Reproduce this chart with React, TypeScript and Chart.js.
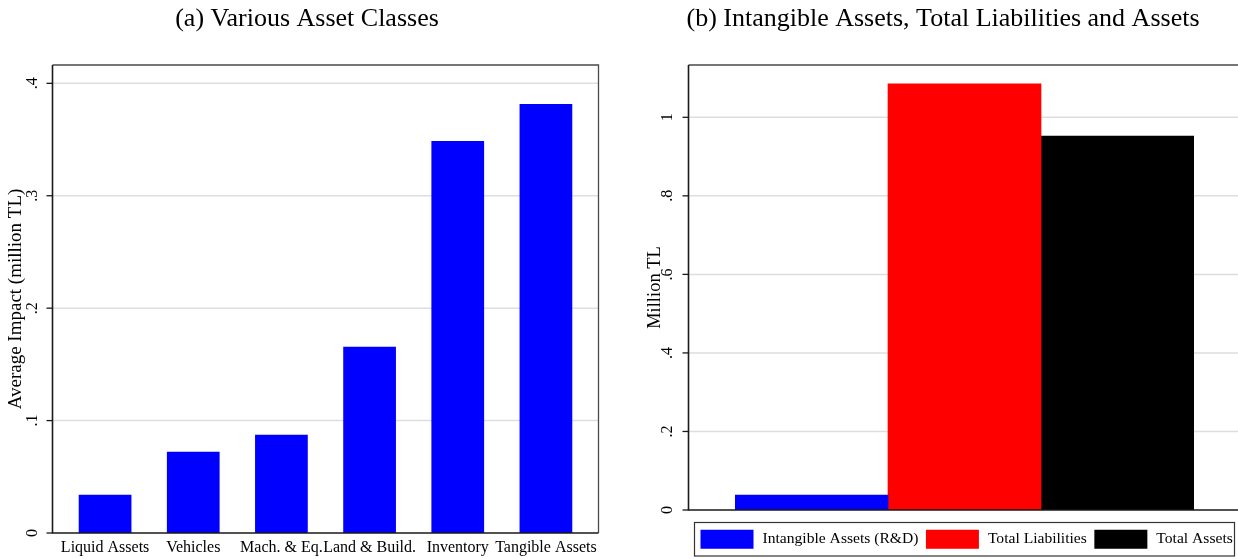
import React, { useEffect, useRef } from "react";
import { Chart, registerables } from "chart.js";

Chart.register(...registerables);

// ---------- data ----------
const assetTitle = "(a) Various Asset Classes";
const assetYTitle = "Average Impact (million TL)";
const assetCategories = ["Liquid Assets", "Vehicles", "Mach. & Eq.", "Land & Build.", "Inventory", "Tangible Assets"];
const assetImpact = [0.034, 0.0723, 0.0874, 0.1656, 0.3487, 0.3816];
const assetTicks = [0, 0.1, 0.2, 0.3, 0.4];
const assetTickLabels = ["0", ".1", ".2", ".3", ".4"];

const balanceTitle = "(b) Intangible Assets, Total Liabilities and Assets";
const balanceYTitle = "Million TL";
const balanceSeries = ["Intangible Assets (R&D)", "Total Liabilities", "Total Assets"];
const balanceValues = [0.038, 1.085, 0.952];
const balanceColors = ["#0000ff", "#ff0000", "#000000"];
const balanceTicks = [0, 0.2, 0.4, 0.6, 0.8, 1];
const balanceTickLabels = ["0", ".2", ".4", ".6", ".8", "1"];

const SERIF = "'Liberation Serif', 'Times New Roman', serif";
const H = 559;

const stataPlugin = {
  id: "stata",
  beforeDatasetsDraw(chart: any, _a: any, o: any) {
    const { ctx, chartArea: ca } = chart;
    const y = chart.scales.y;
    const fl = ca.left - o.padLeft;
    const fr = ca.right + o.padRight;
    ctx.save();
    ctx.strokeStyle = "#dedede";
    ctx.lineWidth = 1.5;
    o.ticks.forEach((v: number) => {
      if (v === 0) return;
      const py = y.getPixelForValue(v);
      ctx.beginPath();
      ctx.moveTo(fl, py);
      ctx.lineTo(fr, py);
      ctx.stroke();
    });
    ctx.restore();
  },
  afterDatasetsDraw(chart: any, _a: any, o: any) {
    const { ctx, chartArea: ca } = chart;
    const y = chart.scales.y;
    const x = chart.scales.x;
    const fl = ca.left - o.padLeft;
    const fr = ca.right + o.padRight;
    const top = ca.top;
    const bottom = ca.bottom;
    ctx.save();
    // top / right frame
    ctx.strokeStyle = "#4a4a4a";
    ctx.lineWidth = 1.3;
    ctx.beginPath();
    ctx.moveTo(fl, top);
    ctx.lineTo(fr, top);
    ctx.lineTo(fr, bottom);
    ctx.stroke();
    // axes
    ctx.strokeStyle = "#1a1a1a";
    ctx.lineWidth = 1.6;
    ctx.beginPath();
    ctx.moveTo(fl, top);
    ctx.lineTo(fl, bottom);
    ctx.lineTo(fr, bottom);
    ctx.stroke();
    // ticks + labels
    ctx.lineWidth = 1.3;
    ctx.fillStyle = "#000";
    ctx.font = `16px ${SERIF}`;
    ctx.textAlign = "center";
    ctx.textBaseline = "middle";
    o.ticks.forEach((v: number, i: number) => {
      const py = y.getPixelForValue(v);
      ctx.beginPath();
      ctx.moveTo(fl - 6, py);
      ctx.lineTo(fl, py);
      ctx.stroke();
      ctx.save();
      ctx.translate(fl - o.tickGap, py);
      ctx.rotate(-Math.PI / 2);
      ctx.fillText(o.tickLabels[i], 0, 0);
      ctx.restore();
    });
    // y title
    ctx.save();
    ctx.font = `${o.yTitleSize}px ${SERIF}`;
    ctx.translate(o.yTitleX, (top + bottom) / 2);
    ctx.rotate(-Math.PI / 2);
    ctx.fillText(o.yTitle, 0, 0);
    ctx.restore();
    // x labels
    if (o.xLabels) {
      ctx.font = `16px ${SERIF}`;
      chart.data.labels.forEach((lab: string, i: number) => {
        ctx.fillText(lab, x.getPixelForValue(i), bottom + 15);
      });
    }
    // title
    ctx.font = `26px ${SERIF}`;
    ctx.fillText(o.title, o.titleX, 19);
    // legend
    if (o.legend) {
      const L = o.legend;
      ctx.strokeStyle = "#333";
      ctx.lineWidth = 1.2;
      ctx.strokeRect(L.x, L.y, L.w, L.h);
      ctx.font = `15.6px ${SERIF}`;
      ctx.textAlign = "left";
      let cx = L.x + 6;
      const cy = L.y + L.h / 2;
      chart.data.datasets.forEach((ds: any) => {
        ctx.fillStyle = ds.backgroundColor;
        ctx.fillRect(cx, cy - 9.5, 53, 19);
        cx += 53 + 9;
        ctx.fillStyle = "#000";
        ctx.fillText(ds.label, cx, cy);
        cx += ctx.measureText(ds.label).width + 7.5;
      });
    }
    ctx.restore();
  },
};

function assetConfig(): any {
  return {
    type: "bar",
    data: {
      labels: assetCategories,
      datasets: [
        {
          data: assetImpact,
          backgroundColor: "#0000ff",
          borderWidth: 0,
          barPercentage: 0.598,
          categoryPercentage: 1,
        },
      ],
    },
    options: {
      responsive: false,
      animation: false,
      layout: { padding: { left: 61, right: 30, top: 65, bottom: 26 } },
      scales: {
        x: { display: false },
        y: { display: false, min: 0, max: 0.4163 },
      },
      plugins: {
        legend: { display: false },
        title: { display: false },
        tooltip: { enabled: false },
        stata: {
          padLeft: 8.5,
          padRight: 8.5,
          ticks: assetTicks,
          tickLabels: assetTickLabels,
          tickGap: 20,
          yTitle: assetYTitle,
          yTitleX: 16,
          yTitleSize: 19,
          xLabels: true,
          title: assetTitle,
          titleX: 307,
        },
      },
    },
    plugins: [stataPlugin],
  };
}

function balanceConfig(): any {
  return {
    type: "bar",
    data: {
      labels: [""],
      datasets: balanceSeries.map((s, i) => ({
        label: s,
        data: [balanceValues[i]],
        backgroundColor: balanceColors[i],
        borderWidth: 0,
        barPercentage: 1,
        categoryPercentage: 1,
      })),
    },
    options: {
      responsive: false,
      animation: false,
      layout: { padding: { left: 115, right: 44, top: 65, bottom: 49 } },
      scales: {
        x: { display: false },
        y: { display: false, min: 0, max: 1.1332 },
      },
      plugins: {
        legend: { display: false },
        title: { display: false },
        tooltip: { enabled: false },
        stata: {
          padLeft: 46.5,
          padRight: 46,
          ticks: balanceTicks,
          tickLabels: balanceTickLabels,
          tickGap: 21,
          yTitle: balanceYTitle,
          yTitleX: 35,
          yTitleSize: 18.5,
          xLabels: false,
          title: balanceTitle,
          titleX: 323,
          legend: { x: 74.5, y: 522.5, w: 540, h: 33.5 },
        },
      },
    },
    plugins: [stataPlugin],
  };
}

function Panel({ make, left, width }: { make: () => any; left: number; width: number }) {
  const ref = useRef<HTMLCanvasElement>(null);
  useEffect(() => {
    const chart = new Chart(ref.current as HTMLCanvasElement, make());
    return () => chart.destroy();
  }, []);
  return (
    <canvas
      ref={ref}
      width={width}
      height={H}
      style={{ position: "absolute", left, top: 0, width, height: H }}
    />
  );
}

export default function App() {
  return (
    <div style={{ position: "absolute", left: 0, top: 0, width: 1238, height: H, background: "#fff" }}>
      <Panel make={assetConfig} left={0} width={620} />
      <Panel make={balanceConfig} left={620} width={618} />
    </div>
  );
}
